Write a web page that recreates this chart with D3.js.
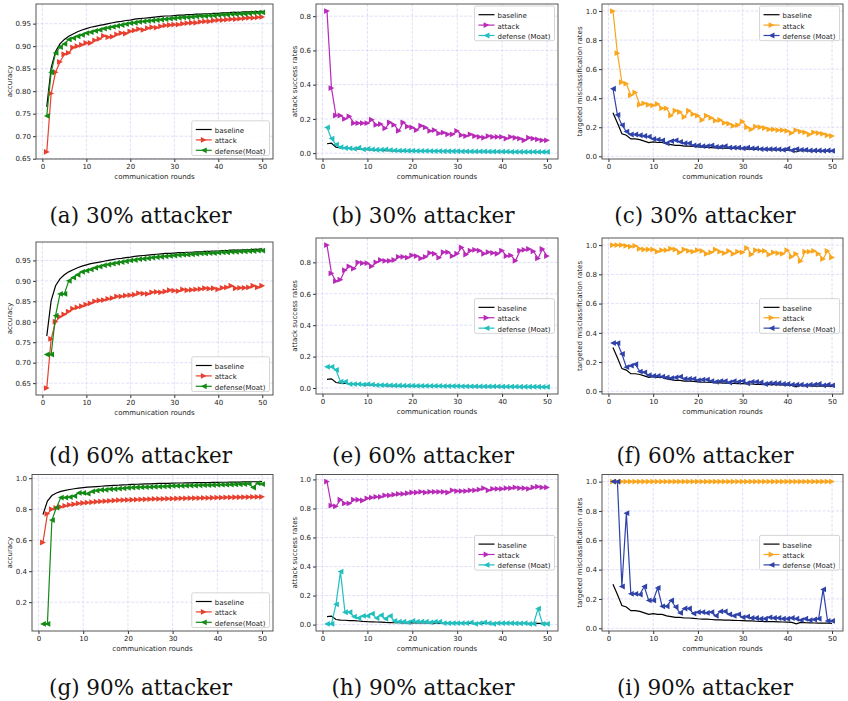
<!DOCTYPE html>
<html>
<head>
<meta charset="utf-8">
<script src="https://cdn.jsdelivr.net/npm/d3@7"></script>
<style>
  body { margin: 0; background: #fff; }
  svg text { font-family: "DejaVu Sans", sans-serif; }
  .tag { font-family: "DejaVu Serif", serif !important; }
</style>
</head>
<body>
<svg id="fig" width="848" height="701"></svg>
<script>
var rounds = d3.range(1, 51);
var xTicks = [0, 10, 20, 30, 40, 50];

// accuracy (left column)
var accBaseline = [
  .765, .852, .888, .905, .915, .922, .927, .932, .936, .939,
  .942, .944, .946, .948, .950, .952, .954, .955, .957, .958,
  .960, .961, .962, .963, .964, .965, .966, .967, .967, .968,
  .969, .969, .970, .970, .971, .971, .972, .972, .973, .973,
  .974, .974, .975, .975, .975, .976, .976, .977, .977, .978];
var accAttack30 = [
  .665, .795, .842, .865, .882, .885, .897, .900, .903, .907,
  .907, .913, .916, .923, .920, .921, .926, .929, .928, .933,
  .935, .938, .936, .940, .942, .941, .944, .946, .947, .948,
  .948, .950, .951, .952, .952, .954, .955, .955, .957, .958,
  .958, .959, .960, .960, .961, .962, .963, .963, .964, .965];
var accDefense30 = [
  .745, .842, .885, .898, .905, .915, .918, .922, .925, .929,
  .931, .934, .936, .939, .941, .943, .945, .947, .949, .951,
  .952, .954, .955, .956, .957, .958, .959, .960, .961, .962,
  .963, .964, .964, .965, .966, .967, .967, .968, .968, .969,
  .970, .970, .971, .971, .972, .972, .973, .974, .974, .975];
var accAttack60 = [
  .638, .758, .800, .812, .818, .825, .832, .835, .838, .842,
  .845, .850, .852, .853, .856, .858, .862, .862, .864, .865,
  .866, .870, .869, .868, .872, .873, .872, .874, .877, .876,
  .875, .879, .877, .878, .879, .880, .882, .881, .882, .879,
  .883, .884, .888, .882, .883, .883, .884, .888, .884, .888];
var accDefense60 = [
  .720, .720, .815, .868, .868, .900, .908, .915, .922, .925,
  .928, .932, .935, .938, .940, .942, .944, .946, .948, .950,
  .951, .953, .954, .955, .957, .958, .959, .960, .961, .962,
  .963, .964, .964, .965, .966, .967, .967, .968, .968, .969,
  .970, .970, .971, .971, .972, .972, .973, .973, .974, .974];
var accAttack90 = [
  .585, .770, .800, .808, .815, .822, .828, .832, .837, .840,
  .843, .845, .848, .850, .852, .854, .856, .858, .859, .860,
  .861, .862, .863, .864, .865, .866, .866, .867, .868, .868,
  .869, .870, .870, .871, .872, .872, .873, .873, .874, .875,
  .875, .876, .876, .877, .877, .878, .878, .879, .879, .880];
var accDefense90 = [
  .060, .060, .730, .810, .875, .875, .878, .885, .905, .905,
  .900, .915, .920, .925, .925, .930, .930, .933, .935, .938,
  .940, .941, .942, .943, .944, .945, .946, .947, .948, .950,
  .951, .951, .952, .953, .953, .954, .955, .955, .956, .957,
  .958, .958, .959, .960, .961, .962, .965, .940, .968, .962];

// attack success rates (middle column)
var asrBaseline = [
  .055, .058, .035, .031, .030, .028, .027, .025, .022, .020,
  .019, .018, .017, .015, .014, .013, .013, .012, .012, .012,
  .011, .011, .011, .011, .010, .010, .010, .010, .010, .010,
  .010, .010, .009, .009, .009, .009, .009, .009, .009, .009,
  .008, .008, .008, .008, .008, .008, .008, .008, .008, .008];
var asrAttack30 = [
  .830, .380, .220, .220, .200, .215, .175, .175, .175, .175,
  .195, .165, .170, .145, .180, .165, .130, .180, .155, .150,
  .135, .160, .150, .130, .135, .115, .120, .110, .110, .130,
  .105, .100, .110, .100, .095, .090, .100, .095, .095, .095,
  .085, .095, .090, .085, .075, .090, .085, .080, .075, .075];
var asrDefense30 = [
  .150, .085, .050, .035, .030, .028, .025, .032, .022, .025,
  .022, .020, .020, .022, .018, .016, .015, .015, .014, .014,
  .013, .013, .013, .012, .012, .012, .011, .011, .011, .011,
  .010, .010, .010, .010, .010, .010, .009, .009, .009, .009,
  .009, .008, .008, .008, .008, .008, .008, .007, .007, .007];
var asrAttack60 = [
  .910, .730, .680, .690, .750, .775, .760, .800, .795, .795,
  .775, .800, .815, .810, .810, .815, .835, .835, .830, .845,
  .840, .825, .835, .860, .855, .830, .865, .865, .840, .855,
  .895, .850, .875, .880, .875, .855, .865, .860, .855, .875,
  .840, .845, .810, .875, .880, .885, .870, .825, .885, .840];
var asrDefense60 = [
  .135, .135, .115, .040, .040, .025, .025, .025, .022, .025,
  .022, .018, .018, .018, .017, .016, .016, .015, .015, .015,
  .014, .014, .014, .013, .013, .013, .012, .012, .012, .012,
  .011, .011, .011, .011, .010, .010, .010, .010, .010, .009,
  .009, .009, .009, .008, .008, .008, .008, .008, .007, .007];
var asrAttack90 = [
  .985, .820, .815, .860, .835, .835, .860, .860, .855, .870,
  .875, .880, .880, .890, .890, .895, .900, .900, .905, .910,
  .910, .915, .910, .915, .915, .915, .915, .910, .925, .920,
  .920, .920, .925, .925, .930, .940, .925, .935, .935, .935,
  .940, .940, .945, .940, .940, .935, .945, .950, .945, .945];
var asrDefense90 = [
  .005, .005, .140, .365, .085, .085, .055, .045, .060, .060,
  .075, .045, .065, .040, .060, .025, .020, .020, .015, .025,
  .020, .020, .020, .015, .020, .020, .010, .010, .010, .010,
  .010, .010, .015, .005, .010, .015, .010, .005, .010, .010,
  .010, .010, .008, .008, .010, .005, .005, .110, .005, .005];

// targeted misclassification rates (right column)
var tmrBaseline = [
  .300, .230, .155, .145, .120, .120, .115, .105, .095, .100,
  .095, .095, .085, .080, .075, .075, .070, .070, .068, .065,
  .063, .062, .060, .058, .057, .056, .055, .054, .053, .052,
  .050, .050, .048, .047, .046, .045, .045, .044, .043, .042,
  .040, .030, .040, .038, .037, .036, .035, .035, .035, .034];
var tmrAttack30 = [
  1.00, .710, .510, .500, .420, .440, .355, .365, .355, .350,
  .360, .330, .330, .280, .315, .305, .270, .315, .290, .280,
  .250, .280, .265, .245, .250, .230, .225, .210, .215, .240,
  .200, .185, .205, .200, .195, .185, .185, .180, .180, .175,
  .160, .180, .170, .165, .150, .165, .160, .155, .145, .140];
var tmrDefense30 = [
  .465, .285, .215, .170, .150, .150, .145, .140, .135, .120,
  .115, .110, .090, .105, .110, .100, .090, .090, .075, .075,
  .070, .070, .075, .065, .065, .070, .060, .060, .060, .055,
  .060, .055, .055, .050, .050, .050, .050, .048, .045, .052,
  .040, .050, .045, .045, .040, .040, .040, .038, .040, .038];
var tmrAttack60 = [
  1.00, 1.00, 1.00, .995, .990, .995, .975, .970, .970, .970,
  .955, .965, .965, .975, .970, .950, .970, .960, .955, .965,
  .960, .940, .950, .970, .955, .945, .960, .940, .955, .950,
  .980, .935, .965, .960, .960, .935, .950, .945, .940, .965,
  .920, .940, .890, .955, .955, .960, .940, .905, .960, .915];
var tmrDefense60 = [
  .330, .330, .255, .165, .175, .185, .135, .130, .110, .105,
  .105, .100, .095, .090, .095, .100, .085, .085, .085, .075,
  .080, .080, .070, .065, .070, .070, .060, .070, .065, .070,
  .055, .065, .065, .060, .050, .055, .055, .055, .050, .050,
  .045, .045, .045, .040, .045, .045, .050, .040, .045, .040];
var tmrAttack90 = [
  1, 1, 1, 1, 1, 1, 1, 1, 1, 1,
  1, 1, 1, 1, 1, 1, 1, 1, 1, 1,
  1, 1, 1, 1, 1, 1, 1, 1, 1, 1,
  1, 1, 1, 1, 1, 1, 1, 1, 1, 1,
  1, 1, 1, 1, 1, 1, 1, 1, 1, 1];
var tmrDefense90 = [
  1.00, 1.00, .285, .785, .235, .235, .230, .285, .190, .190,
  .275, .150, .150, .190, .145, .105, .135, .135, .100, .110,
  .110, .105, .110, .085, .115, .115, .095, .085, .095, .075,
  .080, .070, .070, .065, .065, .075, .070, .070, .065, .065,
  .070, .065, .055, .065, .055, .060, .065, .265, .050, .050];

var accNames = ["baseline", "attack", "defense(Moat)"];
var rateNames = ["baseline", "attack", "defense (Moat)"];

var columns = [
  { ylab: "accuracy", names: accNames, atkColor: "#e8402f", defColor: "#138a13", labX: 10, tagX: 140.5 },
  { ylab: "attack success rates", names: rateNames, atkColor: "#b82ab8", defColor: "#22bfbf", labX: 295, tagX: 423 },
  { ylab: "targeted misclassification rates", names: rateNames, atkColor: "#f9a51e", defColor: "#2e42a8", labX: 580, tagX: 705 }
];

var panels = [
  { tag: "(a) 30% attacker", col: 0, step: 0.05, box: [36, 4, 273, 159], base: accBaseline, atk: accAttack30, def: accDefense30, leg: "lower" },
  { tag: "(b) 30% attacker", col: 1, step: 0.2, box: [316, 4, 558, 159], base: asrBaseline, atk: asrAttack30, def: asrDefense30, leg: "upper" },
  { tag: "(c) 30% attacker", col: 2, step: 0.2, box: [602, 4, 843, 159], base: tmrBaseline, atk: tmrAttack30, def: tmrDefense30, leg: "upper" },
  { tag: "(d) 60% attacker", col: 0, step: 0.05, box: [36, 242, 273, 395], base: accBaseline, atk: accAttack60, def: accDefense60, leg: "lower" },
  { tag: "(e) 60% attacker", col: 1, step: 0.2, box: [316, 238, 558, 394], base: asrBaseline, atk: asrAttack60, def: asrDefense60, leg: "center" },
  { tag: "(f) 60% attacker", col: 2, step: 0.2, box: [602, 238, 843, 394], base: tmrBaseline, atk: tmrAttack60, def: tmrDefense60, leg: "center" },
  { tag: "(g) 90% attacker", col: 0, step: 0.2, box: [32, 474.5, 273, 631], base: accBaseline, atk: accAttack90, def: accDefense90, leg: "lower" },
  { tag: "(h) 90% attacker", col: 1, step: 0.2, box: [316, 474.5, 558, 631], base: asrBaseline, atk: asrAttack90, def: asrDefense90, leg: "center" },
  { tag: "(i) 90% attacker", col: 2, step: 0.2, box: [602, 474.5, 843, 631], base: tmrBaseline, atk: tmrAttack90, def: tmrDefense90, leg: "center" }
];
var tagY = [223, 463, 695];

var svg = d3.select("#fig");
var fs = 7;
var triRight = "M2.9,0L-2.9,-2.9L-2.9,2.9Z",
  triLeft = "M-2.9,0L2.9,-2.9L2.9,2.9Z";

panels.forEach(function (p, i) {
  var c = columns[p.col],
    x0 = p.box[0], y0 = p.box[1], x1 = p.box[2], y1 = p.box[3];

  // matplotlib style 5% margins
  var xPad = (d3.max(rounds) - d3.min(rounds)) * 0.05;
  var x = d3.scaleLinear()
    .domain([d3.min(rounds) - xPad, d3.max(rounds) + xPad])
    .range([x0, x1]);
  var all = p.base.concat(p.atk, p.def),
    lo = d3.min(all), hi = d3.max(all), pad = (hi - lo) * 0.05;
  var y = d3.scaleLinear().domain([lo - pad, hi + pad]).range([y1, y0]);

  var k0 = Math.ceil((lo - pad) / p.step - 1e-6),
    k1 = Math.floor((hi + pad) / p.step + 1e-6);
  var yTicks = d3.range(k0, k1 + 1).map(function (k) { return +(k * p.step).toFixed(2); });

  var g = svg.append("g");

  // grid
  g.selectAll(".gx").data(xTicks).enter().append("line")
    .attr("x1", x).attr("x2", x).attr("y1", y0).attr("y2", y1)
    .attr("stroke", "#d3d3f5").attr("stroke-width", 0.7).attr("stroke-dasharray", "3,1.5");
  g.selectAll(".gy").data(yTicks).enter().append("line")
    .attr("x1", x0).attr("x2", x1).attr("y1", y).attr("y2", y)
    .attr("stroke", "#d3d3f5").attr("stroke-width", 0.7).attr("stroke-dasharray", "3,1.5");

  // axes
  var ax = g.append("g").attr("transform", "translate(0," + y1 + ")")
    .call(d3.axisBottom(x).tickValues(xTicks).tickSize(3).tickPadding(2));
  var ay = g.append("g").attr("transform", "translate(" + x0 + ",0)")
    .call(d3.axisLeft(y).tickValues(yTicks).tickFormat(d3.format(p.step < 0.1 ? ".2f" : ".1f")).tickSize(3).tickPadding(2));
  [ax, ay].forEach(function (a) {
    a.select(".domain").remove();
    a.selectAll("line").attr("stroke", "#333");
    a.selectAll("text").attr("fill", "#222").style("font-size", fs + "px")
      .style("font-family", "DejaVu Sans");
  });

  g.append("rect").attr("x", x0).attr("y", y0)
    .attr("width", x1 - x0).attr("height", y1 - y0)
    .attr("fill", "none").attr("stroke", "#444").attr("stroke-width", 0.9);

  g.append("text").attr("x", (x0 + x1) / 2).attr("y", y1 + 19.5)
    .attr("text-anchor", "middle").attr("fill", "#222").style("font-size", fs + "px")
    .text("communication rounds");
  g.append("text")
    .attr("transform", "translate(" + c.labX + "," + (y0 + y1) / 2 + ") rotate(-90)")
    .attr("text-anchor", "middle").attr("dominant-baseline", "central")
    .attr("fill", "#222").style("font-size", fs + "px").text(c.ylab);

  // series
  var line = d3.line()
    .x(function (d, j) { return x(rounds[j]); })
    .y(function (d) { return y(d); });

  g.append("path").datum(p.base).attr("d", line)
    .attr("fill", "none").attr("stroke", "#000").attr("stroke-width", 1.2);

  [[p.atk, c.atkColor, triRight], [p.def, c.defColor, triLeft]].forEach(function (s) {
    g.append("path").datum(s[0]).attr("d", line)
      .attr("fill", "none").attr("stroke", s[1]).attr("stroke-width", 1.2);
    g.selectAll(null).data(s[0]).enter().append("path")
      .attr("d", s[2])
      .attr("transform", function (d, j) { return "translate(" + x(rounds[j]) + "," + y(d) + ")"; })
      .attr("fill", s[1]);
  });

  // legend
  var lg = g.append("g"), rowH = 10.4;
  var texts = c.names.map(function (n, j) {
    return lg.append("text").attr("x", 23).attr("y", 5 + rowH * j + rowH / 2)
      .attr("dominant-baseline", "central").attr("fill", "#222")
      .style("font-size", fs + "px").text(n);
  });
  var tw = d3.max(texts, function (t) { return t.node().getComputedTextLength(); });
  var lw = 23 + tw + 4, lh = rowH * 3 + 3.5;
  lg.insert("rect", "text").attr("width", lw).attr("height", lh).attr("rx", 1.5)
    .attr("fill", "#fff").attr("fill-opacity", 0.85).attr("stroke", "#ccc").attr("stroke-width", 0.8);
  [["#000", null], [c.atkColor, triRight], [c.defColor, triLeft]].forEach(function (h, j) {
    var cy = 5 + rowH * j + rowH / 2 - 1.5;
    lg.append("line").attr("x1", 4).attr("x2", 20).attr("y1", cy).attr("y2", cy)
      .attr("stroke", h[0]).attr("stroke-width", 1.2);
    if (h[1]) lg.append("path").attr("d", h[1])
      .attr("transform", "translate(12," + cy + ")").attr("fill", h[0]);
  });
  var lx = x1 - 3.5 - lw, ly;
  if (p.leg === "lower") ly = y1 - 3.5 - lh;
  else if (p.leg === "upper") ly = y0 + 2;
  else ly = (y0 + y1) / 2 - lh / 2;
  lg.attr("transform", "translate(" + lx + "," + ly + ")");

  // caption under the panel
  svg.append("text").attr("class", "tag")
    .attr("x", c.tagX).attr("y", tagY[Math.floor(i / 3)])
    .attr("text-anchor", "middle").attr("fill", "#111")
    .style("font-size", "21.5px").text(p.tag);
});
</script>
</body>
</html>
